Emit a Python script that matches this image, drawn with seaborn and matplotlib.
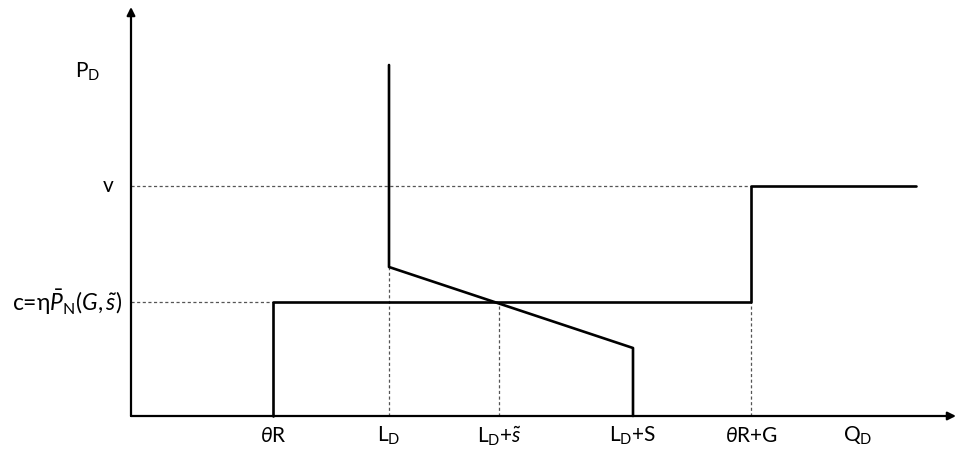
import matplotlib
matplotlib.use("Agg")
import matplotlib.pyplot as plt
import seaborn as sns
import pandas as pd

# ---- data (in chart units) ----
supply_x = [142, 142, 620, 620, 785]
supply_y = [0, 114, 114, 230, 230]
demand_x = [258, 258, 502, 502]
demand_y = [351, 149, 68, 0]
tick_pos = [142, 258, 368, 502, 620]
tick_labels = [r"$\theta$R", r"L$_\mathrm{D}$", r"L$_\mathrm{D}$+$\tilde{s}$",
               r"L$_\mathrm{D}$+S", r"$\theta$R+G"]
qd_pos = 727
v_level = 230
c_level = 114
v_label = "v"
c_label = r"c=η$\bar{P}_{\mathrm{N}}(G,\tilde{s})$"
y_title = r"P$_\mathrm{D}$"
x_title = r"Q$_\mathrm{D}$"

sns.set_theme(style="white")
plt.rcParams['font.family'] = ['Lato', 'DejaVu Sans']
plt.rcParams['mathtext.fontset'] = 'custom'
plt.rcParams['mathtext.rm'] = 'Lato'
plt.rcParams['mathtext.it'] = 'Lato:italic'
plt.rcParams['text.color'] = 'black'

fig = plt.figure(figsize=(9.58, 4.58), dpi=100)
ax = fig.add_axes([0, 0, 1, 1])
ax.set_xlim(-131, 827)
ax.set_ylim(-42, 416)
ax.axis('off')

df_s = pd.DataFrame({"x": supply_x, "y": supply_y, "i": range(len(supply_x))})
df_d = pd.DataFrame({"x": demand_x, "y": demand_y, "i": range(len(demand_x))})
sns.lineplot(data=df_s, x="x", y="y", sort=False, estimator=None, color="black",
             lw=1.9, ax=ax, zorder=3)
sns.lineplot(data=df_d, x="x", y="y", sort=False, estimator=None, color="black",
             lw=1.9, ax=ax, zorder=3)

dash = dict(color="#555555", lw=0.9, linestyle=(0, (2.5, 2)), zorder=2)
# dashed guides
ax.plot([0, 620], [v_level, v_level], **dash)
ax.plot([0, 142], [c_level, c_level], **dash)
ax.plot([demand_x[0], demand_x[0]], [0, demand_y[1]], **dash)
ax.plot([tick_pos[2], tick_pos[2]], [0, c_level], **dash)
ax.plot([620, 620], [0, c_level], **dash)

# axes with arrows
ax.annotate("", xy=(0, 409), xytext=(0, 0),
            arrowprops=dict(arrowstyle="-|>", color="black", lw=1.6,
                            mutation_scale=12, shrinkA=0, shrinkB=0))
ax.annotate("", xy=(825, 0), xytext=(0, 0),
            arrowprops=dict(arrowstyle="-|>", color="black", lw=1.6,
                            mutation_scale=12, shrinkA=0, shrinkB=0))

fs = 15
for p, l in zip(tick_pos, tick_labels):
    ax.text(p, -20, l, ha="center", va="center", fontsize=fs)
ax.text(qd_pos, -20, x_title, ha="center", va="center", fontsize=fs)
ax.text(-23, v_level, v_label, ha="center", va="center", fontsize=fs)
ax.text(-9, c_level, c_label, ha="right", va="center", fontsize=16.5)
ax.text(-43, 344, y_title, ha="center", va="center", fontsize=fs)

fig.savefig("out.png", dpi=100)
